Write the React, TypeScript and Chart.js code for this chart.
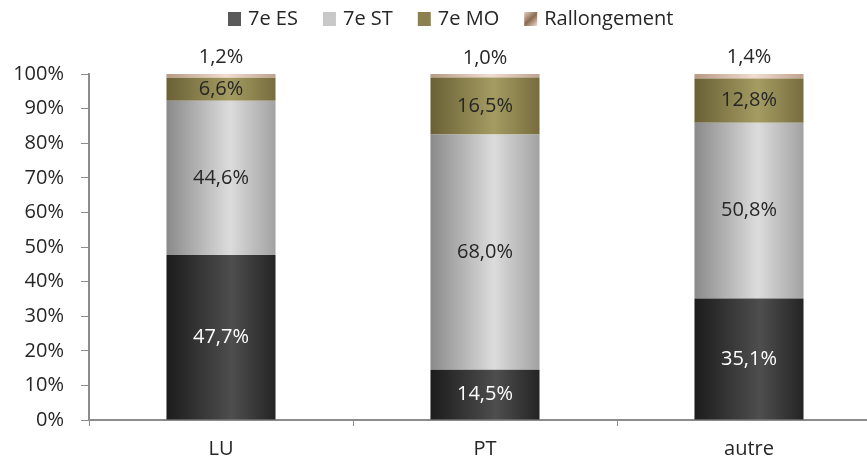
import React, { useEffect, useRef } from "react";
import { Chart, registerables } from "chart.js";

Chart.register(...registerables);

const categories = ["LU", "PT", "autre"];
const seriesNames = ["7e ES", "7e ST", "7e MO", "Rallongement"];
const es = [47.7, 14.5, 35.1];
const st = [44.6, 68.0, 50.8];
const mo = [6.6, 16.5, 12.8];
const rallongement = [1.2, 1.0, 1.4];
const yTicks = [0, 10, 20, 30, 40, 50, 60, 70, 80, 90, 100];

const FONT = "'Open Sans', 'Liberation Sans', sans-serif";
const FONT_SIZE = 20;
const BAR_PCT = 0.413;

const swatches = ["#5a5a5a", "#c8c8c8", "#8c8050", "#c9a88e"];
const gradStops: [number, string][][] = [
  [[0, "#1c1c1c"], [0.6, "#4e4e4e"], [1, "#242424"]],
  [[0, "#8a8a8a"], [0.58, "#dcdcdc"], [1, "#a2a2a2"]],
  [[0, "#6a6036"], [0.58, "#a49c62"], [1, "#766c3e"]],
  [[0, "#b89a84"], [0.55, "#f2dcd0"], [1, "#c0a290"]],
];

function makeBg(di: number) {
  return (ctx: any) => {
    const chart = ctx.chart;
    const xs = chart.scales && chart.scales.x;
    if (!xs || !chart.chartArea || ctx.dataIndex === undefined) return swatches[di];
    const cx = xs.getPixelForValue(ctx.dataIndex);
    const w = (xs.width / categories.length) * BAR_PCT;
    const g = chart.ctx.createLinearGradient(cx - w / 2, 0, cx + w / 2, 0);
    gradStops[di].forEach(([o, c]) => g.addColorStop(o, c));
    return g;
  };
}

const fmt = (v: number) => v.toFixed(1).replace(".", ",") + "%";

const labelPlugin = {
  id: "valueLabels",
  afterDatasetsDraw(chart: any) {
    const c = chart.ctx;
    c.save();
    c.font = `${FONT_SIZE}px ${FONT}`;
    c.textAlign = "center";
    c.textBaseline = "middle";
    chart.data.datasets.forEach((ds: any, di: number) => {
      const meta = chart.getDatasetMeta(di);
      meta.data.forEach((el: any, i: number) => {
        const v = ds.data[i];
        if (di === 3) {
          c.fillStyle = "#262626";
          c.fillText(fmt(v), el.x, el.y - 16);
        } else {
          c.fillStyle = di === 0 ? "#ffffff" : "#262626";
          c.fillText(fmt(v), el.x, (el.y + el.base) / 2);
        }
      });
    });
    c.restore();
  },
};

const legendPlugin = {
  id: "customLegend",
  afterDraw(chart: any) {
    const c = chart.ctx;
    c.save();
    c.font = `${FONT_SIZE}px ${FONT}`;
    c.textBaseline = "middle";
    c.textAlign = "left";
    let x = 228;
    const y = 19;
    seriesNames.forEach((name, i) => {
      if (i === 3) {
        const g = c.createLinearGradient(x, y - 7, x + 13, y + 7);
        g.addColorStop(0, "#e8d0c0");
        g.addColorStop(0.5, "#8a6a50");
        g.addColorStop(1, "#f0dcd0");
        c.fillStyle = g;
      } else {
        c.fillStyle = swatches[i];
      }
      c.fillRect(x, y - 7, 13, 14);
      x += 20;
      c.fillStyle = "#262626";
      c.fillText(name, x, y);
      x += c.measureText(name).width + 25;
    });
    c.restore();
  },
};

export default function App() {
  const ref = useRef<HTMLCanvasElement | null>(null);
  useEffect(() => {
    if (!ref.current) return;
    const chart = new Chart(ref.current, {
      type: "bar",
      data: {
        labels: categories,
        datasets: [es, st, mo, rallongement].map((d, i) => ({
          label: seriesNames[i],
          data: d,
          backgroundColor: makeBg(i),
          borderWidth: 0,
          barPercentage: BAR_PCT,
          categoryPercentage: 1,
        })),
      },
      options: {
        responsive: false,
        animation: false,
        layout: { padding: { top: 74, left: 0, right: 0, bottom: 0 } },
        plugins: { legend: { display: false }, tooltip: { enabled: false } },
        scales: {
          x: {
            stacked: true,
            afterFit: (s: any) => {
              s.height = 41;
            },
            border: { color: "#8c8c8c", width: 2 },
            grid: { drawOnChartArea: false, drawTicks: true, tickLength: 6, color: "#8c8c8c", offset: true },
            ticks: { color: "#262626", font: { family: FONT, size: FONT_SIZE }, padding: 11 },
          },
          y: {
            stacked: true,
            min: 0,
            max: 100,
            afterFit: (s: any) => {
              s.width = 89;
            },
            afterBuildTicks: (s: any) => {
              s.ticks = yTicks.map((v) => ({ value: v }));
            },
            border: { color: "#8c8c8c", width: 2 },
            grid: { drawOnChartArea: false, drawTicks: true, tickLength: 8, color: "#8c8c8c" },
            ticks: {
              color: "#262626",
              font: { family: FONT, size: FONT_SIZE },
              padding: 17,
              callback: (v: any) => v + "%",
            },
          },
        },
      },
      plugins: [labelPlugin, legendPlugin],
    });
    return () => chart.destroy();
  }, []);
  return (
    <div style={{ position: "absolute", left: 0, top: 0, width: 867, height: 461, overflow: "hidden", background: "#fff" }}>
      <canvas ref={ref} width={881} height={461} style={{ display: "block" }} />
    </div>
  );
}
